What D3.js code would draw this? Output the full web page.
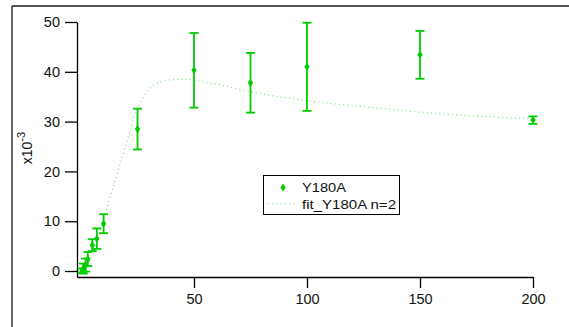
<!DOCTYPE html>
<html>
<head>
<meta charset="utf-8">
<script src="https://cdn.jsdelivr.net/npm/d3@7"></script>
<style>
  html, body { margin: 0; padding: 0; background: #fff; }
  svg { display: block; font-family: "Liberation Sans", Arial, sans-serif; }
</style>
</head>
<body>
<svg id="chart" width="569" height="327"></svg>
<script>
// Y180A measurements: concentration, response (x10^-3) and error
const concentrations = [0.5, 1, 2, 3, 5, 7, 10, 25, 50, 75, 100, 150, 200];
const responses      = [0.1, 0.5, 1.2, 2.4, 5.2, 6.5, 9.5, 28.5, 40.3, 37.8, 41.0, 43.4, 30.3];
const errors         = [0.4, 1.0, 1.3, 1.4, 1.2, 2.05, 1.9, 4.1, 7.5, 6.0, 8.85, 4.8, 0.75];

// Fitted curve (Hill, n=2), sampled along x
const fitX = [0, 2, 4, 6, 8, 10, 12, 15, 18, 21, 24, 27, 30, 35, 40, 45, 50, 60, 75, 100, 125, 150, 175, 200];
const fitY = [0, 0.6, 2.2, 4.5, 7.2, 10.3, 13.5, 18, 22.5, 27, 31.5, 34.5, 36.5, 37.9, 38.4, 38.5, 38.3, 37.5, 36, 34.2, 33, 31.9, 31.1, 30.6];

const xTicks = [50, 100, 150, 200];
const yTicks = [0, 10, 20, 30, 40, 50];

const green = "#00cc00";
const fitGreen = "#8fe28f";

const svg = d3.select("#chart");

// outer frame (top and left edges)
svg.append("line").attr("x1", 12).attr("x2", 569).attr("y1", 6).attr("y2", 6)
  .attr("stroke", "#555").attr("stroke-width", 2);
svg.append("line").attr("x1", 12).attr("x2", 12).attr("y1", 6).attr("y2", 327)
  .attr("stroke", "#333").attr("stroke-width", 1.5);

const x = d3.scaleLinear().domain([-1.77, 200]).range([77, 533]);
const y = d3.scaleLinear().domain([-1.2, 50]).range([277, 22]);

// axes
const xAxis = d3.axisBottom(x).tickValues(xTicks).tickSize(11).tickSizeOuter(0).tickPadding(6);
const yAxis = d3.axisLeft(y).tickValues(yTicks).tickSize(12).tickSizeOuter(0).tickPadding(5);

const gx = svg.append("g").attr("transform", "translate(0,277)").call(xAxis);
const gy = svg.append("g").attr("transform", "translate(77,0)").call(yAxis);
[gx, gy].forEach(g => {
  g.select(".domain").attr("stroke", "#000").attr("stroke-width", 1.3);
  g.selectAll(".tick line").attr("stroke", "#000").attr("stroke-width", 1.3);
  g.selectAll(".tick text").attr("fill", "#111").style("font-size", "14.5px")
    .style("font-family", "'Liberation Sans', Arial, sans-serif");
});

// axis unit label
const yl = svg.append("text")
  .attr("transform", "translate(32,148) rotate(-90)")
  .attr("text-anchor", "middle")
  .attr("fill", "#111")
  .style("font-size", "14px");
yl.append("tspan").text("x10");
yl.append("tspan").attr("dy", -7).style("font-size", "11px").text("-3");

// fit curve
const line = d3.line()
  .x((d, i) => x(fitX[i]))
  .y(d => y(d))
  .curve(d3.curveMonotoneX);
svg.append("path")
  .datum(fitY)
  .attr("d", line)
  .attr("fill", "none")
  .attr("stroke", fitGreen)
  .attr("stroke-width", 1.2)
  .attr("stroke-dasharray", "1.2,3");

// error bars
const data = concentrations.map((c, i) => ({ c, v: responses[i], e: errors[i] }));
const eb = svg.append("g").attr("stroke", green).attr("stroke-width", 1.8);
data.forEach(d => {
  const cx = x(d.c);
  eb.append("line").attr("x1", cx).attr("x2", cx).attr("y1", y(d.v + d.e)).attr("y2", y(d.v - d.e));
  eb.append("line").attr("x1", cx - 4.5).attr("x2", cx + 4.5).attr("y1", y(d.v + d.e)).attr("y2", y(d.v + d.e));
  eb.append("line").attr("x1", cx - 4.5).attr("x2", cx + 4.5).attr("y1", y(d.v - d.e)).attr("y2", y(d.v - d.e));
});

// diamond markers
const diamond = "M0,-4L2.7,0L0,4L-2.7,0Z";
svg.append("g").selectAll("path")
  .data(data)
  .join("path")
  .attr("d", diamond)
  .attr("transform", d => `translate(${x(d.c)},${y(d.v)})`)
  .attr("fill", green);

// legend
const lg = svg.append("g");
lg.append("rect").attr("x", 263.5).attr("y", 175.5).attr("width", 136).attr("height", 39)
  .attr("fill", "#fff").attr("stroke", "#000").attr("stroke-width", 1);
lg.append("path").attr("d", diamond).attr("transform", "translate(283,187.5)").attr("fill", green);
lg.append("line").attr("x1", 268).attr("x2", 296).attr("y1", 203.5).attr("y2", 203.5)
  .attr("stroke", fitGreen).attr("stroke-width", 1.2).attr("stroke-dasharray", "1.2,3");
lg.append("text").attr("x", 302).attr("y", 191.5).attr("fill", "#111")
  .style("font-size", "13px").attr("textLength", 44).attr("lengthAdjust", "spacingAndGlyphs")
  .text("Y180A");
lg.append("text").attr("x", 302).attr("y", 208.5).attr("fill", "#111")
  .style("font-size", "13px").attr("textLength", 94).attr("lengthAdjust", "spacingAndGlyphs")
  .text("fit_Y180A n=2");
</script>
</body>
</html>
